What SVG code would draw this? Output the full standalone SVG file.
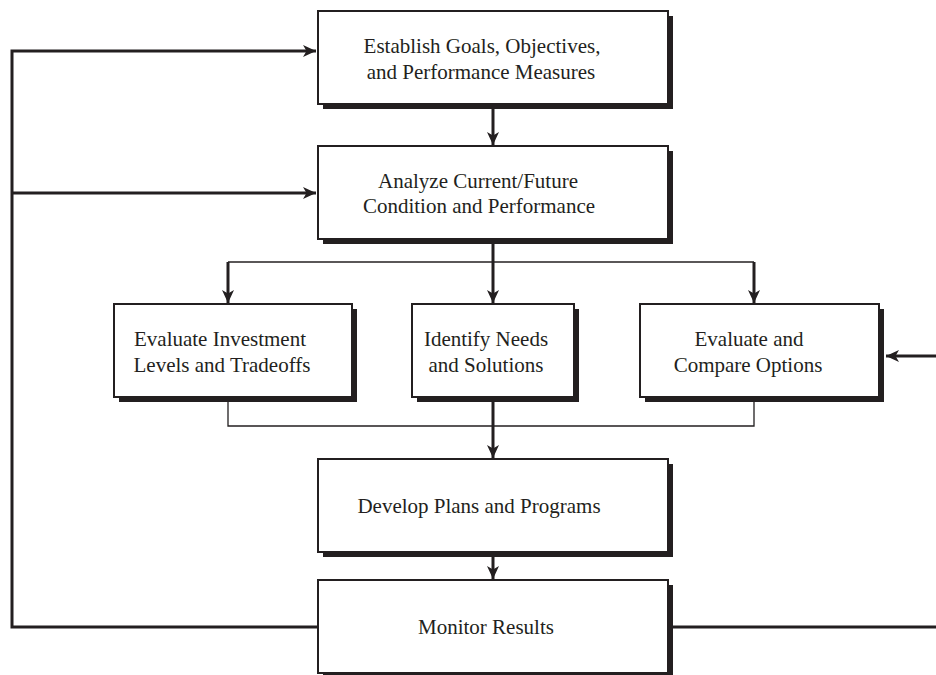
<svg xmlns="http://www.w3.org/2000/svg" width="936" height="675" viewBox="0 0 936 675">
<style>
.box{fill:#fff;stroke:#231f20;stroke-width:2}
.sh{fill:#231f20}
.t{font-family:"Liberation Serif","Times New Roman",serif;font-size:21px;fill:#231f20;text-anchor:middle}
.thick{fill:none;stroke:#231f20;stroke-width:3}
.thin{fill:none;stroke:#231f20;stroke-width:1.3}
</style>
<defs>
<marker id="ah" markerUnits="userSpaceOnUse" markerWidth="14" markerHeight="14" viewBox="0 0 14 14" refX="13" refY="7" orient="auto">
<path d="M0,1 L13,7 L0,13 L3.5,7 z" fill="#231f20"/>
</marker>
</defs>
<g id="connectors">
<path class="thick" d="M318,627 H12 V51 H316" marker-end="url(#ah)"/>
<path class="thick" d="M12,193 H316" marker-end="url(#ah)"/>
<path class="thick" d="M493,108 V145" marker-end="url(#ah)"/>
<path class="thick" d="M493,243 V303" marker-end="url(#ah)"/>
<path class="thin" d="M228,262 H754"/>
<path class="thick" d="M228,262 V303" marker-end="url(#ah)"/>
<path class="thick" d="M754,262 V303" marker-end="url(#ah)"/>
<path class="thin" d="M228,402 V426 H754 V402"/>
<path class="thick" d="M493,402 V458" marker-end="url(#ah)"/>
<path class="thick" d="M493,556 V579" marker-end="url(#ah)"/>
<path class="thick" d="M936,356 H886" marker-end="url(#ah)"/>
<path class="thick" d="M673,627 H936"/>
</g>
<g id="node-goals">
<rect class="sh" x="323" y="16" width="350" height="93"/>
<rect class="box" x="318" y="11" width="350" height="93"/>
<text class="t" x="482" y="53">Establish Goals, Objectives,</text>
<text class="t" x="481" y="79">and Performance Measures</text>
</g>
<g id="node-analyze">
<rect class="sh" x="323" y="151" width="350" height="93"/>
<rect class="box" x="318" y="146" width="350" height="93"/>
<text class="t" x="478" y="188">Analyze Current/Future</text>
<text class="t" x="479" y="213">Condition and Performance</text>
</g>
<g id="node-invest">
<rect class="sh" x="119" y="309" width="238" height="93"/>
<rect class="box" x="114" y="304" width="238" height="93"/>
<text class="t" x="220" y="346">Evaluate Investment</text>
<text class="t" x="222" y="372">Levels and Tradeoffs</text>
</g>
<g id="node-needs">
<rect class="sh" x="417" y="309" width="162" height="93"/>
<rect class="box" x="412" y="304" width="162" height="93"/>
<text class="t" x="486" y="346">Identify Needs</text>
<text class="t" x="486" y="372">and Solutions</text>
</g>
<g id="node-options">
<rect class="sh" x="645" y="309" width="239" height="93"/>
<rect class="box" x="640" y="304" width="239" height="93"/>
<text class="t" x="749" y="346">Evaluate and</text>
<text class="t" x="748" y="372">Compare Options</text>
</g>
<g id="node-develop">
<rect class="sh" x="323" y="464" width="350" height="93"/>
<rect class="box" x="318" y="459" width="350" height="93"/>
<text class="t" x="479" y="513">Develop Plans and Programs</text>
</g>
<g id="node-monitor">
<rect class="sh" x="323" y="585" width="350" height="93"/>
<rect class="box" x="318" y="580" width="350" height="93"/>
<text class="t" x="486" y="634">Monitor Results</text>
</g>
</svg>
